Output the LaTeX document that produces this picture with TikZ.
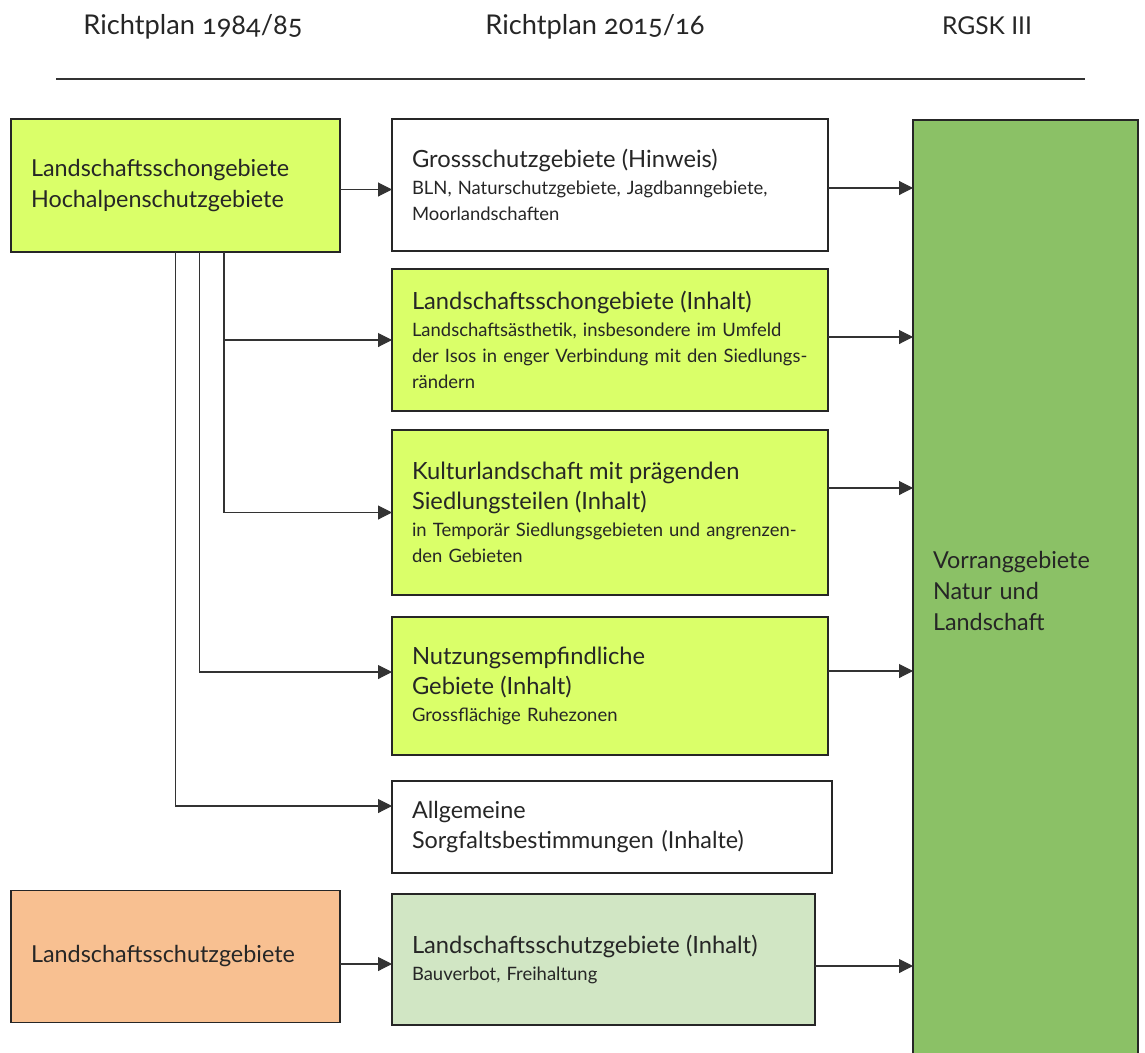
\documentclass[tikz,border=0pt]{standalone}
\usepackage{fontspec}
\setmainfont{Lato}[Numbers=OldStyle]
\usepackage{xcolor}
\usetikzlibrary{positioning,arrows.meta}
\definecolor{schonfill}{HTML}{DAFF69}
\definecolor{schutzfill}{HTML}{F8C091}
\definecolor{inhaltfill}{HTML}{D1E6C4}
\definecolor{vorrangfill}{HTML}{8BC166}
\newcommand{\hd}[1]{{\fontsize{13.5}{16}\selectfont #1}}

\begin{document}
\begin{tikzpicture}[line join=miter]
    \tikzstyle{box}=[draw=black!85, line width=1.1pt, outer sep=0pt, inner xsep=0.4cm, inner ysep=0pt, align=left, text=black!85, font=\fontsize{10.5}{14.8}\selectfont]
    \tikzstyle{bigbox}=[box, font=\fontsize{13.3}{17.5}\selectfont]
    \tikzstyle{head}=[anchor=base, text=black!85, font=\fontsize{15.5}{18}\selectfont]
    \tikzstyle{arrow}=[-{Triangle[length=0.28cm,width=0.28cm]}, draw=black!80, line width=0.6pt]
    \useasboundingbox (0,0) rectangle (22.9,-21.04);

    % Column heads
    \node[head] (h1) at (3.86,-0.68) {Richtplan 1984/85};
    \node[head] (h2) at (11.9,-0.68) {Richtplan 2015/16};
    \node[head, font=\fontsize{14}{16}\selectfont] (h3) at (19.74,-0.69) {RGSK III};
    \draw[black!80, line width=0.6pt] (1.12,-1.58) -- (21.7,-1.58);

    % Richtplan 1984/85
    \node[bigbox, fill=schonfill, minimum height=2.66cm, text width=5.78cm] (A) at (3.51,-3.71)
        {Landschaftsschongebiete\\Hochalpenschutzgebiete};
    \node[bigbox, fill=schutzfill, minimum height=2.64cm, text width=5.78cm] (O) at (3.51,-19.13)
        {Landschaftsschutzgebiete};

    % Richtplan 2015/16
    \node[box, fill=white, minimum height=2.64cm, text width=7.92cm] (G) at (12.2,-3.70)
        {\hd{Grossschutzgebiete (Hinweis)}\\[0.5pt]BLN, Naturschutzgebiete, Jagdbanngebiete,\\Moorlandschaften};
    \node[box, fill=schonfill, minimum height=2.84cm, text width=7.92cm, below=0.36cm of G] (LS)
        {\hd{Landschaftsschongebiete (Inhalt)}\\[0.5pt]Landschafts\"asthetik, insbesondere im Umfeld\\der Isos in enger Verbindung mit den Siedlungs-\\r\"andern};
    \node[box, fill=schonfill, minimum height=3.30cm, text width=7.92cm, below=0.38cm of LS] (K)
        {\hd{Kulturlandschaft mit pr\"agenden}\\[2.2pt]\hd{Siedlungsteilen (Inhalt)}\\[0.5pt]in Tempor\"ar Siedlungsgebieten und angrenzen-\\den Gebieten};
    \node[box, fill=schonfill, minimum height=2.76cm, text width=7.92cm, below=0.44cm of K] (N)
        {\hd{Nutzungsempfindliche}\\[2.2pt]\hd{Gebiete (Inhalt)}\\[0.5pt]Grossfl\"achige Ruhezonen};
    \node[bigbox, fill=white, minimum height=1.84cm, text width=8.0cm, below=0.52cm of N.south west, anchor=north west] (Allg)
        {Allgemeine\\Sorgfaltsbestimmungen (Inhalte)};
    \node[box, fill=inhaltfill, minimum height=2.62cm, text width=7.66cm, below=0.42cm of Allg.south west, anchor=north west] (LSI)
        {\hd{Landschaftsschutzgebiete (Inhalt)}\\[0.5pt]Bauverbot, Freihaltung};

    % RGSK III
    \node[bigbox, fill=vorrangfill, minimum height=18.84cm, text width=3.7cm] (V) at (20.51,-11.82)
        {Vorranggebiete\\Natur und\\Landschaft};

    % Connect 1984/85 with 2015/16
    \draw[arrow] ([yshift=-0.08cm]A.east) -- ([yshift=-0.08cm]A.east -| G.west);
    \draw[arrow] ([xshift=0.97cm]A.south) |- (LS.west);
    \draw[arrow] ([xshift=0.97cm]A.south) |- (K.west);
    \draw[arrow] ([xshift=0.48cm]A.south) |- ([yshift=0.28cm]N.west);
    \draw[arrow] (A.south) |- ([yshift=0.42cm]Allg.west);
    \draw[arrow] ([yshift=-0.15cm]O.east) -- ([yshift=-0.15cm]O.east -| LSI.west);
    % Connect 2015/16 with RGSK III
    \foreach \src/\dy in {G/-0.06,LS/0.06,K/0.49,N/0.30,LSI/-0.13}
    \draw[arrow] ([yshift=\dy cm]\src.east) -- ([yshift=\dy cm]\src.east -| V.west);
\end{tikzpicture}
\end{document}
